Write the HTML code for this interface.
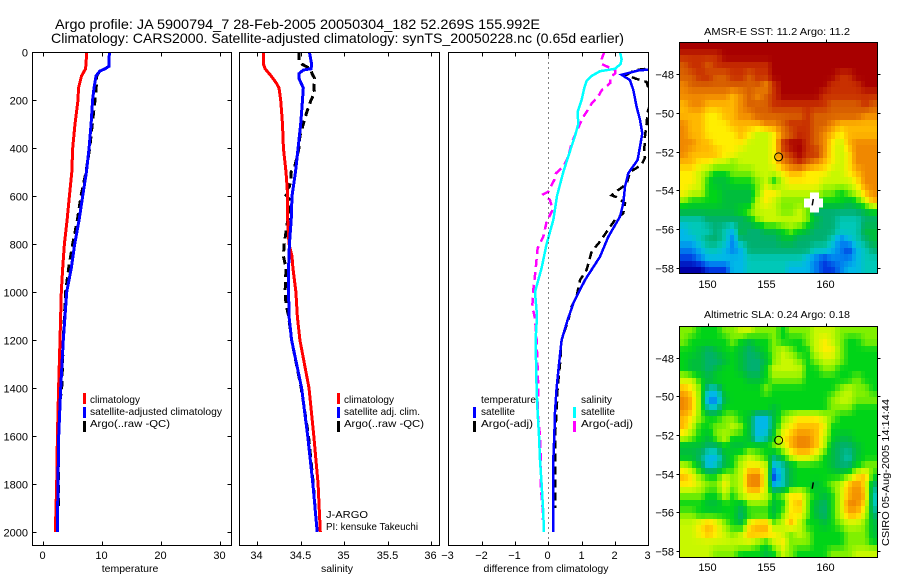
<!DOCTYPE html>
<html lang="en">
<head>
<meta charset="utf-8">
<title>Argo profile JA 5900794_7</title>
<style>
html,body{margin:0;padding:0;background:#fff;}
svg{display:block;}
text{font-family:"Liberation Sans",sans-serif;font-size:11px;fill:#000;}
.title{font-size:14px;}
.small{font-size:10.5px;}
.frame{fill:none;stroke:#000;stroke-width:1;shape-rendering:crispEdges;}
.tick{stroke:#000;stroke-width:1;shape-rendering:crispEdges;}
.stub{shape-rendering:crispEdges;}
</style>
</head>
<body>
<svg id="chart" xmlns="http://www.w3.org/2000/svg" width="900" height="580" viewBox="0 0 900 580">
  <defs>
    <clipPath id="clip-temp"><rect x="32.5" y="52.5" width="199" height="493"/></clipPath>
    <clipPath id="clip-sal"><rect x="239.5" y="52.5" width="200" height="493"/></clipPath>
    <clipPath id="clip-diff"><rect x="448.5" y="52.5" width="200" height="493"/></clipPath>
  </defs>

  <rect x="0" y="0" width="900" height="580" fill="#fff"/>

  <text class="title" x="55" y="29" textLength="485" lengthAdjust="spacingAndGlyphs">Argo profile: JA 5900794_7 28-Feb-2005 20050304_182 52.269S 155.992E</text>
  <text class="title" x="51" y="43" textLength="573" lengthAdjust="spacingAndGlyphs">Climatology: CARS2000. Satellite-adjusted climatology: synTS_20050228.nc (0.65d earlier)</text>

  <g id="panel-temp"></g>
  <g id="panel-sal"></g>
  <g id="panel-diff"></g>

  <line x1="548.5" y1="52.5" x2="548.5" y2="545.5" stroke="#000" stroke-width="1" stroke-dasharray="1 4" shape-rendering="crispEdges"/>

  <rect class="frame" x="32.5" y="52.5" width="199" height="493"/>
  <rect class="frame" x="239.5" y="52.5" width="200" height="493"/>
  <rect class="frame" x="448.5" y="52.5" width="200" height="493"/>

  <text x="130" y="572" text-anchor="middle" class="small">temperature</text>
  <text x="337" y="572" text-anchor="middle" class="small">salinity</text>
  <text x="546" y="572" text-anchor="middle" class="small" textLength="125" lengthAdjust="spacingAndGlyphs">difference from climatology</text>

  <g>
    <rect class="stub" x="83" y="393" width="3" height="11" fill="#f00"/>
    <text x="90" y="403" class="small" textLength="50" lengthAdjust="spacingAndGlyphs">climatology</text>
    <rect class="stub" x="83" y="407" width="3" height="11" fill="#00f"/>
    <text x="90" y="415" class="small" textLength="132" lengthAdjust="spacingAndGlyphs">satellite-adjusted climatology</text>
    <rect class="stub" x="83" y="421" width="3" height="11" fill="#000"/>
    <text x="90" y="427" class="small" textLength="80" lengthAdjust="spacingAndGlyphs">Argo(..raw -QC)</text>
  </g>

  <g>
    <rect class="stub" x="337" y="393" width="3" height="11" fill="#f00"/>
    <text x="344" y="403" class="small" textLength="50" lengthAdjust="spacingAndGlyphs">climatology</text>
    <rect class="stub" x="337" y="407" width="3" height="11" fill="#00f"/>
    <text x="344" y="415" class="small" textLength="76" lengthAdjust="spacingAndGlyphs">satellite adj. clim.</text>
    <rect class="stub" x="337" y="421" width="3" height="11" fill="#000"/>
    <text x="344" y="427" class="small" textLength="80" lengthAdjust="spacingAndGlyphs">Argo(..raw -QC)</text>
    <text x="326" y="518" class="small" textLength="42" lengthAdjust="spacingAndGlyphs">J-ARGO</text>
    <text x="326" y="530" class="small" textLength="92" lengthAdjust="spacingAndGlyphs">PI: kensuke Takeuchi</text>
  </g>

  <g>
    <text x="481" y="403" class="small" textLength="55" lengthAdjust="spacingAndGlyphs">temperature</text>
    <rect class="stub" x="473" y="407" width="3" height="11" fill="#00f"/>
    <text x="481" y="415" class="small" textLength="34" lengthAdjust="spacingAndGlyphs">satellite</text>
    <rect class="stub" x="473" y="421" width="3" height="11" fill="#000"/>
    <text x="481" y="427" class="small" textLength="52" lengthAdjust="spacingAndGlyphs">Argo(-adj)</text>
    <text x="581" y="403" class="small" textLength="31" lengthAdjust="spacingAndGlyphs">salinity</text>
    <rect class="stub" x="573" y="407" width="3" height="11" fill="#0ff"/>
    <text x="581" y="415" class="small" textLength="34" lengthAdjust="spacingAndGlyphs">satellite</text>
    <rect class="stub" x="573" y="421" width="3" height="11" fill="#f0f"/>
    <text x="581" y="427" class="small" textLength="52" lengthAdjust="spacingAndGlyphs">Argo(-adj)</text>
  </g>

  <g id="map-sst"></g>
  <g id="map-sla"></g>

  <text x="777" y="35" text-anchor="middle" class="small" textLength="146" lengthAdjust="spacingAndGlyphs">AMSR-E SST: 11.2 Argo: 11.2</text>
  <text x="777" y="318" text-anchor="middle" class="small" textLength="146" lengthAdjust="spacingAndGlyphs">Altimetric SLA: 0.24 Argo: 0.18</text>
  <text transform="translate(889,546) rotate(-90)" class="small" textLength="147" lengthAdjust="spacingAndGlyphs">CSIRO 05-Aug-2005 14:14:44</text>
</svg>

<script>
// ---- axis ticks ----
const depthTicks = [0, 200, 400, 600, 800, 1000, 1200, 1400, 1600, 1800, 2000];
const tempTicks = [0, 10, 20, 30];
const salTicks = [34, 34.5, 35, 35.5, 36];
const diffTicks = [-3, -2, -1, 0, 1, 2, 3];
const lonTicks = [150, 155, 160];
const latTicks = [-48, -50, -52, -54, -56, -58];

// ---- temperature profiles ----
const tempClimDepth = [0, 70, 100, 150, 200, 300, 400, 500, 600, 700, 800, 900, 1000, 1200, 1400, 1600, 1800, 2000];
const tempClimValue = [7.4, 7.2, 6.5, 6.0, 5.9, 5.4, 5.0, 4.85, 4.45, 4.05, 3.6, 3.3, 3.07, 2.84, 2.6, 2.4, 2.28, 2.05];
const tempSatDepth = [0, 60, 70, 80, 100, 150, 200, 300, 400, 500, 600, 700, 800, 900, 1000, 1100, 1200, 1400, 1600, 1800, 2000];
const tempSatValue = [11.25, 11.15, 10.5, 9.6, 8.97, 8.64, 8.4, 8.13, 7.8, 7.33, 6.7, 6.1, 5.35, 4.77, 3.98, 3.7, 3.4, 2.96, 2.62, 2.5, 2.39];
const tempArgoDepth = [0, 60, 70, 80, 100, 150, 200, 300, 400, 500, 600, 700, 800, 900, 1000, 1200, 1400, 1500, 1900];
const tempArgoValue = [11.25, 11.15, 10.5, 9.6, 9.1, 9.0, 8.8, 8.35, 7.9, 7.27, 6.42, 5.8, 5.0, 4.33, 3.8, 3.4, 3.13, 2.6, 2.6];

// ---- salinity profiles ----
const salClimDepth = [0, 50, 70, 100, 130, 150, 200, 300, 400, 500, 600, 700, 800, 850, 900, 1000, 1100, 1200, 1400, 1600, 1800, 2000];
const salClimValue = [34.07, 34.07, 34.09, 34.16, 34.22, 34.25, 34.27, 34.29, 34.30, 34.33, 34.35, 34.35, 34.365, 34.40, 34.41, 34.445, 34.46, 34.49, 34.595, 34.65, 34.70, 34.725];
const salSatDepth = [0, 50, 70, 75, 90, 110, 150, 200, 300, 400, 500, 600, 700, 800, 900, 1000, 1100, 1200, 1400, 1600, 1800, 2000];
const salSatValue = [34.60, 34.625, 34.62, 34.53, 34.48, 34.48, 34.53, 34.52, 34.50, 34.47, 34.44, 34.40, 34.39, 34.37, 34.36, 34.36, 34.365, 34.395, 34.51, 34.58, 34.64, 34.69];
const salArgoDepth = [0, 40, 50, 70, 90, 110, 150, 170, 200, 250, 300, 350, 400, 480, 500, 530, 560, 590, 600, 620, 650, 680, 700, 750, 800, 850, 900, 1000, 1050, 1100, 1200, 1400, 1600, 1800, 1900];
const salArgoValue = [34.48, 34.48, 34.51, 34.61, 34.63, 34.66, 34.65, 34.66, 34.62, 34.57, 34.53, 34.49, 34.48, 34.43, 34.39, 34.39, 34.37, 34.31, 34.34, 34.38, 34.38, 34.38, 34.35, 34.33, 34.31, 34.30, 34.33, 34.32, 34.33, 34.36, 34.395, 34.505, 34.59, 34.645, 34.665];

// ---- differences from climatology ----
const diffTempArgoDepth = [65, 75, 95, 110, 125, 200, 250, 300, 350, 410, 440, 470, 500, 550, 575, 597, 605, 630, 672, 700, 728, 790, 832, 908, 950, 1020, 1060, 1117, 1200, 1300, 1400, 1500, 1600, 1700, 1800, 1900];
const diffTempArgoValue = [3.3, 2.6, 2.35, 2.6, 2.95, 3.1, 2.98, 2.95, 2.9, 2.88, 2.9, 2.8, 2.45, 2.35, 2.1, 1.9, 2.05, 2.3, 2.25, 2.0, 1.85, 1.55, 1.3, 1.15, 0.95, 0.85, 0.7, 0.6, 0.4, 0.35, 0.28, 0.25, 0.2, 0.2, 0.2, 0.2];
const diffSalArgoDepth = [0, 30, 50, 63, 75, 90, 105, 130, 160, 180, 215, 235, 270, 330, 380, 435, 478, 505, 533, 582, 593, 617, 658, 707, 770, 818, 908, 992, 1060, 1110, 1200, 1400, 1500, 1600, 1700, 1800, 1900, 1950];
const diffSalArgoValue = [1.68, 1.6, 1.6, 1.8, 2.0, 2.0, 1.85, 1.85, 1.6, 1.52, 1.3, 1.22, 1.05, 0.85, 0.7, 0.6, 0.45, 0.23, 0.18, 0, -0.15, 0.05, 0.13, -0.05, -0.15, -0.32, -0.38, -0.45, -0.48, -0.4, -0.35, -0.3, -0.32, -0.25, -0.22, -0.23, -0.17, -0.16];
const diffTempSatDepth = [0, 60, 72, 77, 95, 117, 158, 228, 283, 339, 394, 450, 505, 561, 630, 686, 770, 853, 950, 1047, 1117, 1200, 1300, 1400, 1500, 1600, 1700, 1800, 2000];
const diffTempSatValue = [3.85, 3.9, 3.1, 2.7, 2.2, 2.45, 2.55, 2.65, 2.75, 2.82, 2.75, 2.68, 2.4, 2.3, 2.25, 2.15, 1.8, 1.55, 1.1, 0.75, 0.58, 0.4, 0.32, 0.25, 0.2, 0.18, 0.15, 0.15, 0.15];
const diffSalSatDepth = [0, 30, 50, 70, 80, 100, 120, 150, 200, 250, 300, 350, 400, 500, 600, 700, 800, 900, 1000, 1100, 1200, 1400, 1500, 1600, 1700, 1800, 1900, 2000];
const diffSalSatValue = [2.15, 2.2, 2.17, 2.0, 1.55, 1.3, 1.15, 1.08, 1.0, 0.88, 0.9, 0.8, 0.68, 0.45, 0.26, 0.15, -0.05, -0.2, -0.4, -0.34, -0.38, -0.35, -0.32, -0.28, -0.25, -0.2, -0.16, -0.13];

// ---- map fields (colour level per 24-column row, north to south) ----
const sstGrid = [
[15,15,15,15,15,15,15,15,15,15,15,15,15,15,15,15,15,15,15,15,15,15,15,15],
[14,14,14,14,14,15,15,15,15,15,15,15,15,15,15,15,15,15,15,15,15,15,15,15],
[13,14,14,13,14,14,14,14,14,14,14,15,15,15,15,15,15,15,15,15,15,15,15,15],
[13,13,14,14,13,13,14,14,13,14,14,15,15,15,15,15,15,15,15,14,14,15,15,15],
[12,13,13,13,13,13,13,13,13,13,12,14,15,15,15,15,15,15,14,14,14,14,15,15],
[12,12,12,12,12,12,11,12,13,12,13,14,15,15,15,15,15,14,14,14,14,14,14,14],
[11,12,12,11,11,11,11,12,13,13,13,14,14,14,14,14,14,14,13,13,13,13,14,13],
[11,11,11,10,10,11,11,12,12,13,13,13,13,13,13,14,13,13,13,13,13,13,12,12],
[12,11,11,10,10,10,11,11,11,11,12,12,13,14,14,14,13,13,12,11,11,11,11,11],
[12,11,11,10,10,10,10,11,10,9,9,10,12,13,14,14,13,12,11,10,11,11,11,11],
[12,12,11,11,10,10,10,10,9,9,9,10,14,15,15,14,13,12,10,9,11,12,12,12],
[12,11,11,11,11,10,10,9,9,9,9,10,13,14,15,14,14,12,10,9,10,12,12,12],
[11,11,10,10,9,9,8,9,9,9,9,10,12,13,14,13,12,11,10,9,10,12,12,12],
[10,10,9,8,7,7,8,8,8,9,9,9,10,11,11,10,10,10,9,9,10,11,12,12],
[10,10,9,7,6,6,7,7,7,8,9,7,9,10,10,10,10,9,9,9,9,10,12,12],
[10,9,9,7,7,6,6,6,6,8,10,10,9,9,9,9,9,8,8,7,8,9,11,12],
[8,7,7,7,7,6,6,6,6,9,10,9,8,8,8,8,8,7,7,7,6,7,9,11],
[6,6,6,6,6,6,6,7,8,9,9,9,8,8,9,8,5,5,5,5,5,5,6,7],
[4,4,4,5,5,5,5,5,6,8,9,9,9,9,9,8,6,5,5,4,4,4,5,5],
[3,4,4,4,5,4,3,6,5,5,6,6,7,8,7,6,5,5,5,4,4,4,6,6],
[3,3,4,5,5,4,2,5,5,5,5,5,6,6,5,5,5,5,4,2,3,4,5,6],
[2,2,3,4,4,3,2,3,5,5,5,5,5,5,5,5,4,4,3,2,1,3,4,5],
[1,1,2,3,3,3,3,3,4,4,4,4,4,4,4,3,2,1,2,2,2,3,4,4],
[0,0,0,1,1,1,3,3,4,4,4,4,4,3,3,3,2,1,1,2,3,3,4,4]
];
const slaGrid = [
[8,8,7,7,7,8,8,9,9,8,8,8,7,8,8,8,9,9,9,8,8,8,8,8],
[8,7,7,7,7,7,8,7,6,7,7,8,7,7,7,8,9,10,9,8,7,7,8,8],
[7,7,6,5,6,7,7,6,5,6,7,8,9,8,7,7,9,10,10,8,7,7,7,7],
[7,6,6,5,5,6,7,6,5,5,6,8,9,9,8,7,8,9,9,8,7,7,7,7],
[7,6,6,5,6,7,7,6,5,5,7,9,9,9,9,7,7,8,8,7,7,7,7,7],
[9,9,7,6,7,7,7,7,6,6,7,8,8,8,8,7,7,7,7,7,7,8,7,7],
[11,10,8,4,4,7,7,7,7,7,8,7,7,7,7,7,7,7,7,8,9,8,8,7],
[12,11,8,2,2,6,7,7,7,7,7,7,7,7,7,7,7,7,8,9,9,8,8,8],
[12,11,8,4,4,7,7,7,7,7,7,6,7,7,7,7,7,7,8,8,8,7,7,7],
[11,10,8,7,7,8,8,7,6,3,3,6,8,9,10,10,10,9,8,7,7,7,7,7],
[11,9,7,7,8,8,9,8,6,3,3,6,9,10,11,11,11,10,7,7,7,7,7,7],
[9,8,7,6,8,9,7,7,6,3,4,7,10,11,12,12,11,9,7,6,6,7,7,7],
[6,6,6,5,5,7,6,6,7,7,7,8,9,11,12,12,11,9,6,5,5,6,7,7],
[6,6,5,3,3,6,7,8,9,8,7,5,7,9,10,10,9,7,6,5,4,6,7,7],
[9,8,6,3,4,6,7,9,10,10,9,3,4,6,7,7,7,7,6,5,5,7,8,8],
[11,10,8,7,7,9,8,9,12,12,9,1,4,6,7,7,7,7,7,7,8,10,11,7],
[10,10,9,8,8,10,8,9,12,12,9,3,4,6,7,7,6,7,8,9,11,12,10,5],
[8,8,8,7,7,9,7,9,10,10,9,7,8,10,10,8,7,6,7,9,11,12,11,4],
[7,7,7,6,6,7,7,6,8,8,8,6,7,10,11,8,6,5,7,9,12,12,10,4],
[8,8,7,7,7,7,7,5,7,7,7,6,8,10,10,8,6,5,7,9,11,11,9,5],
[9,9,10,11,10,8,7,6,10,11,11,8,9,11,9,7,7,6,7,8,9,9,8,6],
[9,9,10,11,10,9,8,9,11,11,11,10,9,8,9,8,7,7,7,7,8,8,8,6],
[9,9,9,9,9,9,9,9,9,8,7,9,10,8,8,8,7,7,7,7,8,8,8,7],
[9,9,9,9,8,8,8,7,7,7,6,7,9,8,7,7,7,7,8,8,8,9,9,9]
];
const floatTrackLon = [158.85, 158.95];
const floatTrackLat = [-54.78, -54.45];
const profileLon = [156.0];
const profileLat = [-52.27];
const missingLon = [158.95];
const missingLat = [-54.1];

const NS = 'http://www.w3.org/2000/svg';
function linear(d0, d1, r0, r1) {
  return function (v) { return r0 + (v - d0) * (r1 - r0) / (d1 - d0); };
}
function make(tag, attrs, parent) {
  const el = document.createElementNS(NS, tag);
  Object.keys(attrs).forEach(function (k) { el.setAttribute(k, attrs[k]); });
  parent.appendChild(el);
  return el;
}
function levelColor(level) {
  const palette = [[0,0,168],[0,56,224],[0,128,240],[0,184,232],[0,200,184],[0,176,112],[0,190,60],[0,212,24],[128,240,0],[200,248,0],[255,238,0],[255,184,0],[240,136,0],[216,96,0],[200,48,0],[168,0,0]];
  const lo = Math.max(0, Math.min(palette.length - 1, Math.floor(level)));
  const hi = Math.min(palette.length - 1, lo + 1);
  const t = Math.max(0, Math.min(1, level - lo));
  const c = [0, 1, 2].map(function (i) { return Math.round(palette[lo][i] + (palette[hi][i] - palette[lo][i]) * t); });
  return 'rgb(' + c.join(',') + ')';
}
function sampleGrid(grid, fx, fy) {
  const rows = grid.length, cols = grid[0].length;
  const gx = Math.max(0, Math.min(cols - 1, fx * cols - 0.5));
  const gy = Math.max(0, Math.min(rows - 1, fy * rows - 0.5));
  const x0 = Math.floor(gx), y0 = Math.floor(gy);
  const x1 = Math.min(cols - 1, x0 + 1), y1 = Math.min(rows - 1, y0 + 1);
  const tx = gx - x0, ty = gy - y0;
  const top = grid[y0][x0] * (1 - tx) + grid[y0][x1] * tx;
  const bottom = grid[y1][x0] * (1 - tx) + grid[y1][x1] * tx;
  return top * (1 - ty) + bottom * ty;
}

const depthY = linear(0, 2000, 52, 532);
const tempX = linear(0, 30, 43.3, 219.5);
const salX = linear(34, 36, 257.3, 431);
const diffX = linear(-3, 3, 448.3, 648.3);

function drawSeries(parent, depths, values, xFn, color, width, dashed, clip, name) {
  const pts = depths.map(function (d, i) { return xFn(values[i]).toFixed(1) + ',' + depthY(d).toFixed(1); }).join(' ');
  const attrs = { points: pts, fill: 'none', stroke: color, 'stroke-width': width, 'clip-path': 'url(#' + clip + ')', 'shape-rendering': 'crispEdges' };
  if (dashed) attrs['stroke-dasharray'] = '8 5';
  const line = make('polyline', attrs, parent);
  
  
}

function drawXAxis(parent, ticks, xFn, top, bottom, prefix) {
  ticks.forEach(function (t) {
    const x = Math.round(xFn(t)) + 0.5;
    const topTick = make('line', { x1: x, x2: x, y1: top, y2: top + 4, class: 'tick' }, parent);
    
    
    const botTick = make('line', { x1: x, x2: x, y1: bottom - 4, y2: bottom, class: 'tick' }, parent);
    
    
    const label = make('text', { x: x - 1, y: 559, 'text-anchor': 'middle' }, parent);
    label.textContent = String(t).replace('-', '\u2212');
    
    
  });
}

// temperature panel
const tempPanel = document.getElementById('panel-temp');
drawSeries(tempPanel, tempArgoDepth, tempArgoValue, tempX, '#000', 3, true, 'clip-temp', 'temperature-argo-line');
drawSeries(tempPanel, tempClimDepth, tempClimValue, tempX, '#f00', 3, false, 'clip-temp', 'temperature-climatology-line');
drawSeries(tempPanel, tempSatDepth, tempSatValue, tempX, '#00f', 3, false, 'clip-temp', 'temperature-satellite-line');
drawXAxis(tempPanel, tempTicks, tempX, 52.5, 545.5, 'temperature-axis');
depthTicks.forEach(function (d) {
  const y = Math.round(depthY(d)) + 0.5;
  const left = make('line', { x1: 32.5, x2: 36.5, y1: y, y2: y, class: 'tick' }, tempPanel);
  
  
  const right = make('line', { x1: 227.5, x2: 231.5, y1: y, y2: y, class: 'tick' }, tempPanel);
  
  
  const label = make('text', { x: 28, y: y + 4, 'text-anchor': 'end' }, tempPanel);
  label.textContent = String(d);
  
  
});

// salinity panel
const salPanel = document.getElementById('panel-sal');
drawSeries(salPanel, salArgoDepth, salArgoValue, salX, '#000', 3, true, 'clip-sal', 'salinity-argo-line');
drawSeries(salPanel, salClimDepth, salClimValue, salX, '#f00', 3, false, 'clip-sal', 'salinity-climatology-line');
drawSeries(salPanel, salSatDepth, salSatValue, salX, '#00f', 3, false, 'clip-sal', 'salinity-satellite-line');
drawXAxis(salPanel, salTicks, salX, 52.5, 545.5, 'salinity-axis');

// difference panel
const diffPanel = document.getElementById('panel-diff');
drawSeries(diffPanel, diffTempArgoDepth, diffTempArgoValue, diffX, '#000', 2.5, true, 'clip-diff', 'difference-temperature-argo-line');
drawSeries(diffPanel, diffSalArgoDepth, diffSalArgoValue, diffX, '#f0f', 2.5, true, 'clip-diff', 'difference-salinity-argo-line');
drawSeries(diffPanel, diffTempSatDepth, diffTempSatValue, diffX, '#00f', 2.5, false, 'clip-diff', 'difference-temperature-satellite-line');
drawSeries(diffPanel, diffSalSatDepth, diffSalSatValue, diffX, '#0ff', 2.5, false, 'clip-diff', 'difference-salinity-satellite-line');
drawXAxis(diffPanel, diffTicks, diffX, 52.5, 545.5, 'difference-axis');

// maps
function drawMap(groupId, grid, top, bottom, lat48Y, labelY, prefix, withMissing) {
  const group = document.getElementById(groupId);
  const left = 679.5, right = 877.5;
  const fineCols = 47, fineRows = 36;
  const lonX = linear(150, 160, 708, 825.7);
  const latY = linear(-48, -58, lat48Y, lat48Y + 193.4);
  for (let r = 0; r < fineRows; r++) {
    const y0 = Math.round(top + (bottom - top) * r / fineRows);
    const y1 = Math.round(top + (bottom - top) * (r + 1) / fineRows);
    for (let c = 0; c < fineCols; c++) {
      const x0 = Math.round(left + (right - left) * c / fineCols);
      const x1 = Math.round(left + (right - left) * (c + 1) / fineCols);
      const level = sampleGrid(grid, (c + 0.5) / fineCols, (r + 0.5) / fineRows);
      const cell = make('rect', { x: x0, y: y0, width: x1 - x0, height: y1 - y0, fill: levelColor(level), 'shape-rendering': 'crispEdges' }, group);
      
      
    }
  }
  if (withMissing) {
    const gapV = make('rect', { x: lonX(missingLon[0]) - 3.3, y: latY(missingLat[0]), width: 9, height: 20, fill: '#fff', 'shape-rendering': 'crispEdges' }, group);
    
    
    const gapH = make('rect', { x: lonX(missingLon[0]) - 9.3, y: latY(missingLat[0]) + 6, width: 19, height: 9, fill: '#fff', 'shape-rendering': 'crispEdges' }, group);
    
    
  }
  const frame = make('rect', { x: left, y: top, width: right - left, height: bottom - top, class: 'frame' }, group);
  
  
  lonTicks.forEach(function (t) {
    const x = Math.round(lonX(t)) + 0.5;
    const tick = make('line', { x1: x, x2: x, y1: top - 3, y2: top, class: 'tick' }, group);
    
    
    const label = make('text', { x: x - 1, y: labelY, 'text-anchor': 'middle' }, group);
    label.textContent = String(t);
    
    
  });
  latTicks.forEach(function (t) {
    const y = Math.round(latY(t)) + 0.5;
    const tickL = make('line', { x1: left - 3, x2: left, y1: y, y2: y, class: 'tick' }, group);
    
    
    const tickR = make('line', { x1: right, x2: right + 3, y1: y, y2: y, class: 'tick' }, group);
    
    
    const label = make('text', { x: 674, y: y + 4, 'text-anchor': 'end' }, group);
    label.textContent = String(t).replace('-', '\u2212');
    
    
  });
  const track = make('polyline', { points: floatTrackLon.map(function (lon, i) { return lonX(lon).toFixed(1) + ',' + latY(floatTrackLat[i]).toFixed(1); }).join(' '), fill: 'none', stroke: '#000', 'stroke-width': 1.5 }, group);
  
  
  const marker = make('circle', { cx: lonX(profileLon[0]), cy: latY(profileLat[0]), r: 4, fill: 'none', stroke: '#000', 'stroke-width': 1 }, group);
  
  
}
drawMap('map-sst', sstGrid, 42.5, 273.5, 74.3, 288, 'sst-map', true);
drawMap('map-sla', slaGrid, 326.5, 557.5, 357.7, 571, 'sla-map', false);
</script>
</body>
</html>
